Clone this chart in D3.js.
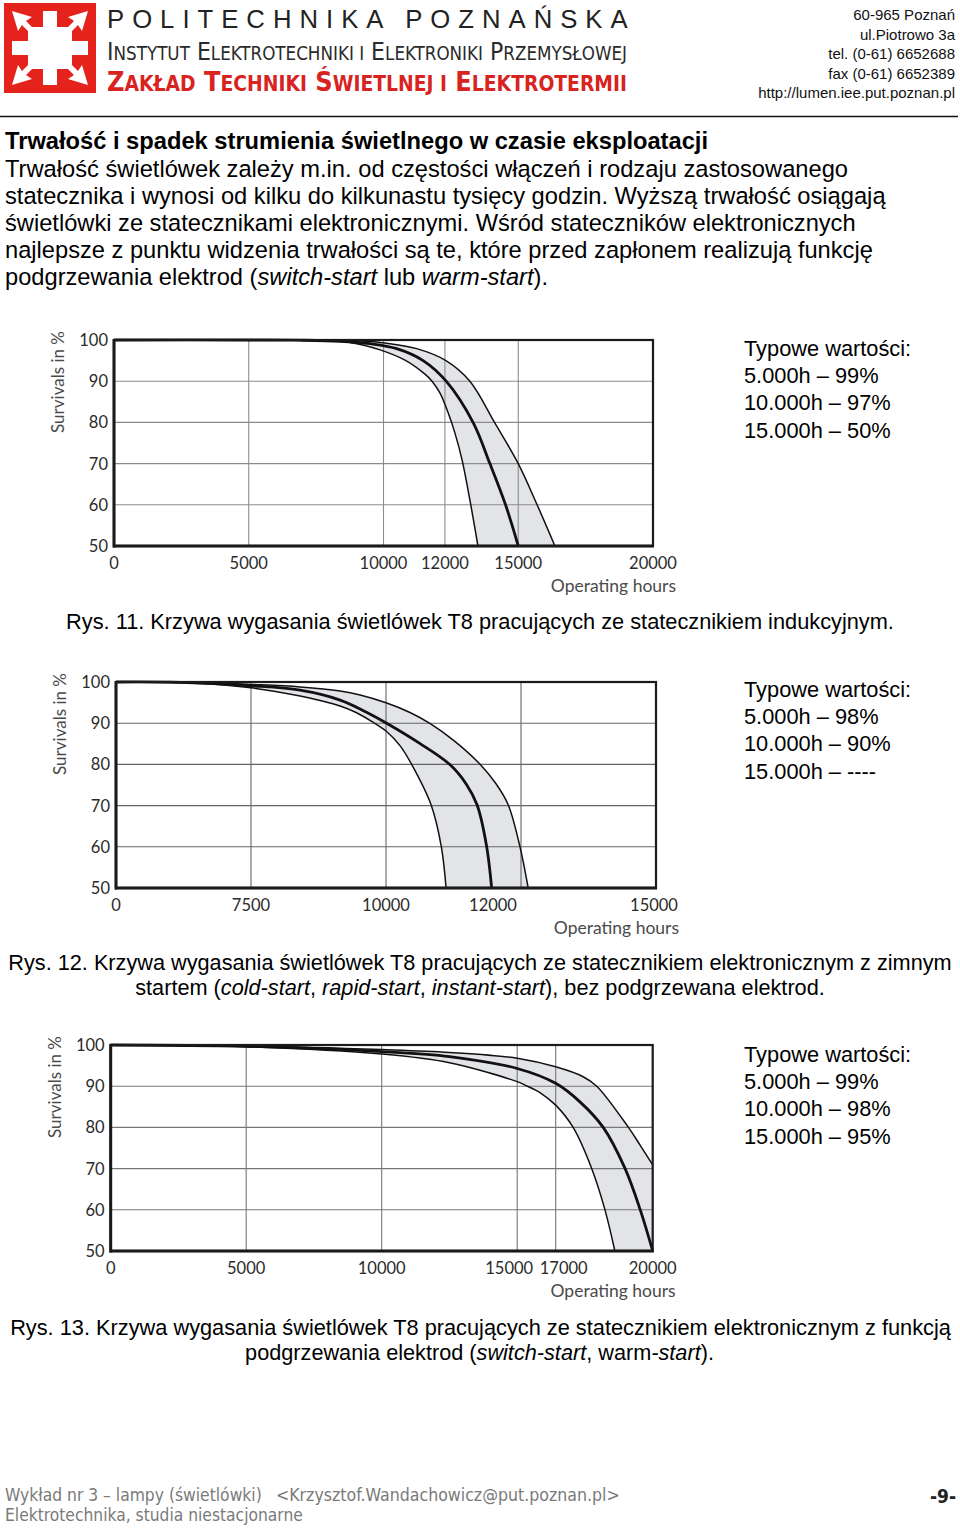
<!DOCTYPE html>
<html><head><meta charset="utf-8">
<script src="https://cdn.jsdelivr.net/npm/d3@7"></script>
<style>
html,body{margin:0;padding:0;background:#fff;}
svg{display:block;}
</style></head><body>
<svg id="page" width="960" height="1529"></svg>
<script>
// ---------------- DATA ----------------
const yTicks = [50, 60, 70, 80, 90, 100];

// Rys. 11 – statecznik indukcyjny  [hours, % survivals]
const ticks11 = [0, 5000, 10000, 12000, 15000, 20000];
const lower11 = [[0,100],[5000,99.98],[6900,99.9],[8760,99.4],[9870,97.6],[10700,95.1],[11350,91.7],[11580,90],[11840,87.1],[12120,82.5],[12410,77.4],[12700,70.9],[13020,61.2],[13350,50]];
const mid11   = [[0,100],[5000,100],[6900,99.95],[8390,99.7],[9500,99.1],[10430,97.9],[11290,95],[12050,90],[13150,80],[13840,70],[14480,60],[15000,50]];
const upper11 = [[0,100],[5000,100],[8020,99.98],[9130,99.8],[10100,99.2],[11080,97.9],[12040,95],[13020,90],[14030,80],[15000,70],[15700,60],[16360,50]];
const notes11 = ["Typowe wartości:", "5.000h – 99%", "10.000h – 97%", "15.000h – 50%"];

// Rys. 12 – statecznik elektroniczny, zimny start
const ticks12 = [0, 7500, 10000, 12000, 15000];
const lower12 = [[0,100],[4670,99.64],[7500,98.59],[8410,96.6],[8780,95.5],[9150,94.17],[9445,92.6],[9740,90.4],[10000,88.1],[10210,84.5],[10380,80],[10670,70.1],[10820,60],[10890,50]];
const mid12   = [[0,100],[3560,99.9],[7500,99.08],[8410,98.0],[9150,95.6],[9610,92.86],[10010,90],[10500,85.1],[10950,79.9],[11190,75.2],[11350,70.15],[11490,60.2],[11565,50]];
const upper12 = [[0,100],[4670,99.9],[7500,99.42],[8410,98.8],[9150,97.8],[9520,96.84],[10000,94.95],[10355,92.6],[10650,89.95],[11020,85.6],[11390,80.1],[11630,75.3],[11810,70.2],[11985,60],[12160,50]];
const notes12 = ["Typowe wartości:", "5.000h – 98%", "10.000h – 90%", "15.000h – ----"];

// Rys. 13 – statecznik elektroniczny z podgrzewaniem elektrod
const ticks13 = [0, 5000, 10000, 15000, 17000, 20000];
const lower13 = [[0,100],[5000,99.6],[10000,97.8],[12500,95.7],[15000,91.1],[15530,90],[16200,88.4],[17000,85.4],[17540,80],[18110,70.1],[18520,60.1],[18830,50]];
const mid13   = [[0,100],[5000,99.7],[10000,98.4],[12500,97.2],[15000,94.3],[17000,90.7],[17750,86.2],[18470,80],[19140,70.1],[19610,60.1],[20000,50]];
const upper13 = [[0,100],[5000,99.8],[10000,98.9],[12500,98.2],[15000,96.8],[17000,94.7],[17850,92.3],[18270,90],[19250,80],[19610,75.7],[20000,70.9]];
const notes13 = ["Typowe wartości:", "5.000h – 99%", "10.000h – 98%", "15.000h – 95%"];

// ---------------- PAGE ----------------
const svg = d3.select('#page');
svg.append('rect').attr('width', 960).attr('height', 1529).attr('fill', '#fff');

const SANS = "'Liberation Sans', Arial, Helvetica, sans-serif";
const HUM = "Lato, 'Open Sans', sans-serif";

function fitText(sel, w) {
  const len = sel.node().getComputedTextLength();
  const fs = parseFloat(sel.attr('font-size'));
  if (len > 0) sel.attr('font-size', (fs * w / len).toFixed(2));
  return sel;
}
function richLine(x, y, parts, opts = {}) {
  const t = svg.append('text').attr('x', x).attr('y', y)
    .attr('font-family', opts.family || SANS).attr('font-size', opts.size || 21.5)
    .attr('fill', opts.fill || '#000').attr('text-anchor', opts.anchor || 'start')
    .attr('font-weight', opts.weight || 'normal');
  parts.forEach(p => {
    const s = typeof p === 'string' ? [p, false] : p;
    t.append('tspan').text(s[0]).attr('font-style', s[1] ? 'italic' : 'normal');
  });
  if (opts.width) fitText(t, opts.width);
  return t;
}

// ---- header logo ----
const logo = svg.append('g').attr('transform', 'translate(4,3)');
logo.append('rect').attr('width', 92).attr('height', 90).attr('fill', '#e3231c');
const W = '#fff';
logo.append('rect').attr('x', 8).attr('y', 38).attr('width', 76).attr('height', 14).attr('fill', W);
logo.append('rect').attr('x', 39).attr('y', 8).attr('width', 14).attr('height', 74).attr('fill', W);
logo.append('rect').attr('x', 24).attr('y', 24).attr('width', 44).attr('height', 42).attr('fill', W);
[[8,8,1,1],[84,8,-1,1],[8,82,1,-1],[84,82,-1,-1]].forEach(([cx,cy,sx,sy]) => {
  logo.append('path').attr('fill', W)
    .attr('d', `M${cx},${cy} L${cx+sx*20},${cy+sy*6} L${cx+sx*14},${cy+sy*10} L${cx+sx*26},${cy+sy*22} L${cx+sx*22},${cy+sy*26} L${cx+sx*10},${cy+sy*14} L${cx+sx*6},${cy+sy*20} Z`);
});

// header texts
fitText(svg.append('text').attr('x', 107).attr('y', 28).attr('font-family', SANS)
  .attr('font-size', 27).attr('fill', '#222').attr('letter-spacing', 8)
  .text('POLITECHNIKA POZNAŃSKA'), 520);

function smallCaps(x, y, str, big, small, fill, weight, width) {
  const t = svg.append('text').attr('x', x).attr('y', y).attr('font-family', "'DejaVu Sans Condensed', 'DejaVu Sans', sans-serif")
    .attr('fill', fill).attr('font-weight', weight).attr('font-size', big);
  str.split(' ').forEach((w, i) => {
    const pre = i > 0 ? ' ' : '';
    if (w.length === 1) { t.append('tspan').attr('font-size', small).text(pre + w.toUpperCase()); return; }
    t.append('tspan').attr('font-size', big).text(pre + w[0].toUpperCase());
    t.append('tspan').attr('font-size', small).text(w.slice(1).toUpperCase());
  });
  t.attr('textLength', width).attr('lengthAdjust', 'spacingAndGlyphs');
  return t;
}
smallCaps(107, 60, 'Instytut Elektrotechniki i Elektroniki Przemysłowej', 25, 19, '#2a2a2a', 'normal', 520);
smallCaps(107, 91, 'Zakład Techniki Świetlnej i Elektrotermii', 27, 21, '#d8231f', 'bold', 520);

const addr = ['60-965 Poznań', 'ul.Piotrowo 3a', 'tel. (0-61) 6652688', 'fax (0-61) 6652389', 'http://lumen.iee.put.poznan.pl'];
addr.forEach((s, i) => {
  svg.append('text').attr('x', 955).attr('y', 20 + i * 19.6).attr('text-anchor', 'end')
    .attr('font-family', SANS).attr('font-size', 15).attr('fill', '#111').text(s);
});
svg.append('line').attr('x1', 0).attr('x2', 958).attr('y1', 116.5).attr('y2', 116.5)
  .attr('stroke', '#111').attr('stroke-width', 1.6);

// ---- intro text ----
richLine(5, 149, ['Trwałość i spadek strumienia świetlnego w czasie eksploatacji'], { weight: 'bold', width: 703 });
richLine(5, 177, ['Trwałość świetlówek zależy m.in. od częstości włączeń i rodzaju zastosowanego'], { width: 843 });
richLine(5, 204, ['statecznika i wynosi od kilku do kilkunastu tysięcy godzin. Wyższą trwałość osiągają'], { width: 881 });
richLine(5, 231, ['świetlówki ze statecznikami elektronicznymi. Wśród stateczników elektronicznych'], { width: 851 });
richLine(5, 258, ['najlepsze z punktu widzenia trwałości są te, które przed zapłonem realizują funkcję'], { width: 868 });
richLine(5, 285, ['podgrzewania elektrod (', ['switch-start', true], ' lub ', ['warm-start', true], ').'], { width: 543 });

// ---------------- CHARTS ----------------
function drawChart(cfg) {
  const xr = cfg.xFrac.map(f => cfg.left + f * (cfg.right - cfg.left));
  const x = d3.scaleLinear().domain(cfg.xStops).range(xr);
  const y = d3.scaleLinear().domain([50, 100]).range([cfg.bottom, cfg.top]);
  const g = svg.append('g');
  const curve = d3.curveCatmullRom.alpha(0.5);

  // band: gray under upper curve, then white under lower curve
  const areaUnder = d3.area().x(d => x(d[0])).y0(y(50)).y1(d => y(d[1])).curve(curve);
  g.append('path').attr('d', areaUnder(cfg.upper)).attr('fill', '#e2e4e7');
  g.append('path').attr('d', areaUnder(cfg.lower)).attr('fill', '#fff');

  // grid
  g.selectAll('.hg').data(yTicks.slice(1, -1)).join('line')
    .attr('x1', cfg.left).attr('x2', cfg.right).attr('y1', d => y(d)).attr('y2', d => y(d))
    .attr('stroke', cfg.grid).attr('stroke-width', 1.1);
  g.selectAll('.vg').data(cfg.ticks.slice(1, -1)).join('line')
    .attr('y1', cfg.top).attr('y2', cfg.bottom).attr('x1', d => x(d)).attr('x2', d => x(d))
    .attr('stroke', cfg.grid).attr('stroke-width', 1.1);

  // curves
  const line = d3.line().x(d => x(d[0])).y(d => y(d[1])).curve(curve);
  [[cfg.lower, 1.5], [cfg.upper, 1.5], [cfg.mid, 2.8]].forEach(([data, w]) => {
    g.append('path').attr('d', line(data)).attr('fill', 'none')
      .attr('stroke', '#111').attr('stroke-width', w).attr('stroke-linejoin', 'round');
  });

  // frame
  g.append('rect').attr('x', cfg.left).attr('y', cfg.top)
    .attr('width', cfg.right - cfg.left).attr('height', cfg.bottom - cfg.top)
    .attr('fill', 'none').attr('stroke', '#1a1a1a').attr('stroke-width', 2.2);
  g.append('line').attr('x1', cfg.left).attr('x2', cfg.left).attr('y1', cfg.top - 1).attr('y2', cfg.bottom + 1.5)
    .attr('stroke', '#1a1a1a').attr('stroke-width', 3);
  g.append('line').attr('x1', cfg.left - 1).attr('x2', cfg.right + 1).attr('y1', cfg.bottom).attr('y2', cfg.bottom)
    .attr('stroke', '#1a1a1a').attr('stroke-width', 3);

  // y tick labels
  g.selectAll('.yl').data(yTicks).join('text')
    .attr('x', cfg.left - 6).attr('y', d => y(d)).attr('dy', '0.36em').attr('text-anchor', 'end')
    .attr('font-family', HUM).attr('font-size', 16.5).attr('fill', '#2b2b2b').text(d => d);
  // x tick labels
  g.selectAll('.xl').data(cfg.ticks).join('text')
    .attr('x', d => x(d) + (cfg.shift[d] || 0)).attr('y', cfg.bottom + 17).attr('dy', '0.36em')
    .attr('text-anchor', 'middle').attr('font-family', HUM).attr('font-size', 16.5)
    .attr('fill', '#2b2b2b').text(d => d);
  // axis titles
  g.append('text').attr('transform', `translate(${cfg.left - 56},${cfg.top + 42}) rotate(-90)`)
    .attr('dy', '0.35em').attr('text-anchor', 'middle').attr('font-family', HUM).attr('font-size', 17)
    .attr('fill', '#4a4a4a').text('Survivals in %');
  g.append('text').attr('x', cfg.right + 23).attr('y', cfg.bottom + 40).attr('dy', '0.35em')
    .attr('text-anchor', 'end').attr('font-family', HUM).attr('font-size', 17.5)
    .attr('fill', '#4a4a4a').text('Operating hours');

  // notes on the right
  cfg.notes.forEach((s, i) => {
    svg.append('text').attr('x', 744).attr('y', cfg.noteY + i * 27.2)
      .attr('font-family', SANS).attr('font-size', 21.8).attr('fill', '#000').text(s);
  });
}

drawChart({ left: 114, right: 653, top: 340, bottom: 546, grid: '#8c8c8c',
  xStops: [0, 10000, 12000, 15000, 20000], xFrac: [0, 0.5, 0.614, 0.75, 1],
  ticks: ticks11, shift: {}, lower: lower11, mid: mid11, upper: upper11, notes: notes11, noteY: 356 });
drawChart({ left: 116, right: 656, top: 682, bottom: 888, grid: '#666',
  xStops: ticks12, xFrac: [0, 0.25, 0.5, 0.75, 1],
  ticks: ticks12, shift: { 12000: -28, 15000: -2 }, lower: lower12, mid: mid12, upper: upper12, notes: notes12, noteY: 697 });
drawChart({ left: 110.7, right: 652.7, top: 1045, bottom: 1251, grid: '#777',
  xStops: [0, 15000, 17000, 20000], xFrac: [0, 0.75, 0.821, 1],
  ticks: ticks13, shift: { 15000: -8, 17000: 8 }, lower: lower13, mid: mid13, upper: upper13, notes: notes13, noteY: 1062 });

// captions
richLine(480, 629, ['Rys. 11. Krzywa wygasania świetlówek T8 pracujących ze statecznikiem indukcyjnym.'], { anchor: 'middle', width: 828 });
richLine(480, 970, ['Rys. 12. Krzywa wygasania świetlówek T8 pracujących ze statecznikiem elektronicznym z zimnym'], { anchor: 'middle', width: 944 });
richLine(480, 995, ['startem (', ['cold-start', true], ', ', ['rapid-start', true], ', ', ['instant-start', true], '), bez podgrzewana elektrod.'], { anchor: 'middle', width: 690 });
richLine(480.5, 1335, ['Rys. 13. Krzywa wygasania świetlówek T8 pracujących ze statecznikiem elektronicznym z funkcją'], { anchor: 'middle', width: 941 });
richLine(479.5, 1360, ['podgrzewania elektrod (', ['switch-start', true], ', warm', ['-start', true], ').'], { anchor: 'middle', width: 469 });

// footer
const NARROW = "'Liberation Sans Narrow', 'Arial Narrow', 'DejaVu Sans Condensed', sans-serif";
richLine(5, 1501, ['Wykład nr 3 – lampy (świetlówki)'], { family: NARROW, size: 17, fill: '#7a7a7a', width: 257 });
richLine(276, 1501, ['<Krzysztof.Wandachowicz@put.poznan.pl>'], { family: NARROW, size: 17, fill: '#7a7a7a', width: 344 });
richLine(5, 1521, ['Elektrotechnika, studia niestacjonarne'], { family: NARROW, size: 17, fill: '#7a7a7a', width: 298 });
richLine(956, 1503, ['-9-'], { family: NARROW, size: 19, fill: '#222', anchor: 'end', weight: 'bold' });
</script>
</body></html>
